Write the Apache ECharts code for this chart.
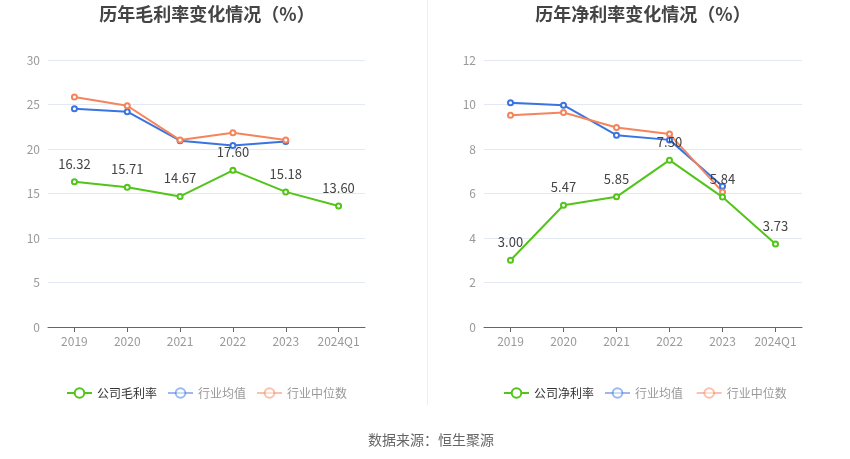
<!DOCTYPE html>
<html><head><meta charset="utf-8">
<script src="https://cdn.jsdelivr.net/npm/echarts@6/dist/echarts.min.js"></script>
<style>html,body{margin:0;padding:0;background:#fff}#c{width:850px;height:459px}</style>
</head><body><div id="c"></div>
<script>
const categories = ['2019','2020','2021','2022','2023','2024Q1'];
const grossCompany = [16.32, 15.71, 14.67, 17.60, 15.18, 13.60];
const grossIndustryAvg = [24.52, 24.19, 20.93, 20.40, 20.85, null];
const grossIndustryMedian = [25.84, 24.86, 21.00, 21.82, 21.00, null];
const netCompany = [3.00, 5.47, 5.85, 7.50, 5.84, 3.73];
const netIndustryAvg = [10.08, 9.97, 8.62, 8.41, 6.33, null];
const netIndustryMedian = [9.52, 9.64, 8.97, 8.67, 6.07, null];

const GREEN = '#52c41a', BLUE = '#3a74e0', ORANGE = '#f5845a';
const font = '"Noto Sans CJK SC", "Noto Sans", sans-serif';

function series(name, data, color, idx, showLabel) {
  return {
    name, type: 'line', data, xAxisIndex: idx, yAxisIndex: idx,
    symbol: 'emptyCircle', symbolSize: 5, showSymbol: true,
    lineStyle: { color, width: 2 }, itemStyle: { color, borderWidth: 1.5 },
    connectNulls: false,
    label: showLabel ? { show: true, position: 'top', distance: 8, color: '#444', fontSize: 13, fontFamily: font, formatter: p => p.value.toFixed(2) } : { show: false },
    z: showLabel ? 3 : 2
  };
}
function legend(left, names) {
  return {
    left, top: 382, itemWidth: 25, itemHeight: 12, itemGap: 10,
    textStyle: { fontSize: 12, fontFamily: font, color: '#333' },
    data: [
      { name: names[0] },
      { name: names[1], itemStyle: { opacity: 0.5 }, lineStyle: { opacity: 0.5 }, textStyle: { color: '#999' } },
      { name: names[2], itemStyle: { opacity: 0.5 }, lineStyle: { opacity: 0.5 }, textStyle: { color: '#999' } }
    ]
  };
}
const axisX = (gi) => ({
  type: 'category', gridIndex: gi, data: categories, boundaryGap: true,
  axisLine: { lineStyle: { color: '#666' } }, axisTick: { show: true, alignWithLabel: true, lineStyle: { color: '#666' } },
  axisLabel: { color: '#999', fontSize: 12, fontFamily: font, margin: 8, interval: 0 }
});
const axisY = (gi, max, interval) => ({
  type: 'value', gridIndex: gi, min: 0, max, interval,
  axisLine: { show: false }, axisTick: { show: false },
  axisLabel: { color: '#999', fontSize: 12, fontFamily: font, margin: 8 },
  splitLine: { lineStyle: { color: '#e3e8f3' } }
});

const chart = echarts.init(document.getElementById('c'));
chart.setOption({
  animation: false,
  title: [
    { text: '历年毛利率变化情况（%）', left: 202, top: 0, textAlign: 'center', textStyle: { fontSize: 18, fontWeight: 'bold', color: '#444', fontFamily: font } },
    { text: '历年净利率变化情况（%）', left: 638, top: 0, textAlign: 'center', textStyle: { fontSize: 18, fontWeight: 'bold', color: '#444', fontFamily: font } },
    { text: '数据来源：恒生聚源', left: 426, top: 428, textAlign: 'center', textStyle: { fontSize: 14, fontWeight: 'normal', color: '#666', fontFamily: font } }
  ],
  legend: [
    legend(61, ['公司毛利率', '行业均值', '行业中位数']),
    legend(498, ['公司净利率', '行业均值 ', '行业中位数 '])
  ],
  grid: [
    { left: 48, top: 60, width: 317, height: 267, containLabel: false },
    { left: 484, top: 60, width: 318, height: 267, containLabel: false }
  ],
  xAxis: [axisX(0), axisX(1)],
  yAxis: [axisY(0, 30, 5), axisY(1, 12, 2)],
  series: [
    series('行业均值', grossIndustryAvg, BLUE, 0, false),
    series('行业中位数', grossIndustryMedian, ORANGE, 0, false),
    series('公司毛利率', grossCompany, GREEN, 0, true),
    series('行业均值 ', netIndustryAvg, BLUE, 1, false),
    series('行业中位数 ', netIndustryMedian, ORANGE, 1, false),
    series('公司净利率', netCompany, GREEN, 1, true)
  ],
  graphic: [
    { type: 'line', shape: { x1: 427.5, y1: 0, x2: 427.5, y2: 405 }, style: { stroke: '#eeeeee', lineWidth: 1 } }
  ]
});
</script></body></html>
